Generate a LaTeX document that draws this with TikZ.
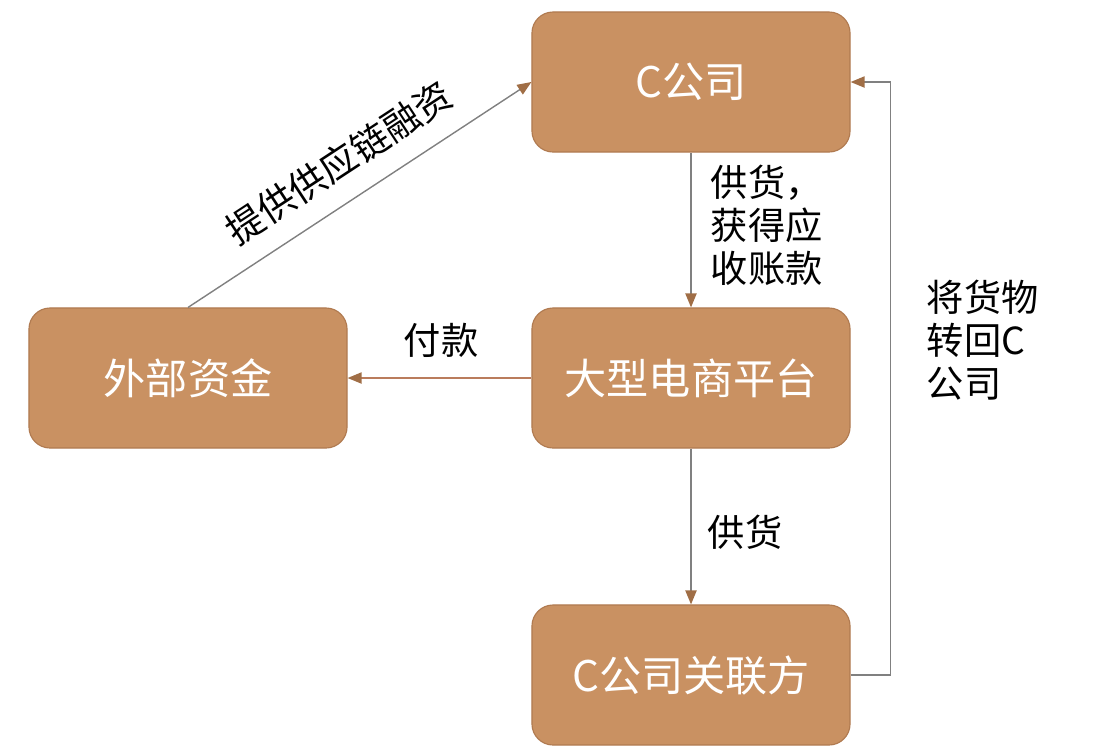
\documentclass[tikz,border=0pt]{standalone}
\usepackage{fontspec}
\setmainfont{Noto Sans CJK SC}
\usetikzlibrary{arrows.meta,positioning}
\definecolor{boxfill}{RGB}{201,145,98}
\definecolor{boxline}{RGB}{176,122,80}
\definecolor{tipbrown}{RGB}{160,110,70}
\definecolor{linegray}{RGB}{128,128,128}
\definecolor{linebrown}{RGB}{186,124,92}

\begin{document}
\begin{tikzpicture}[x=0.025cm,y=-0.025cm,
		firmbox/.style={draw=boxline,fill=boxfill,rounded corners=15pt,line width=0.8pt,
			minimum width=7.95cm,minimum height=3.5cm,text=white,font=\fontsize{30}{36}\selectfont},
		flowlabel/.style={font=\fontsize{26.5}{30.6}\selectfont,align=left,text=black},
		flowarrow/.style={draw=linegray,line width=1pt,-{Triangle[length=10pt,width=8pt,fill=tipbrown,color=tipbrown]}}]
		\useasboundingbox (0,0) rectangle (1108,752);
		% firms
		\node[firmbox] (ccomp) at (691,82) {C公司};
		\node[firmbox] (shop) at (691,378) {大型电商平台};
		\node[firmbox] (funds) at (188,378) {外部资金};
		\node[firmbox] (related) at (691,675) {C公司关联方};
		% flows
		\draw[flowarrow] (ccomp) -- (shop);
		\draw[flowarrow,draw=linebrown] (shop) -- (funds);
		\draw[flowarrow] (funds.north) -- node[midway,above=11pt,sloped,flowlabel] {提供供应链融资} (ccomp.west);
		\draw[flowarrow] (shop) -- (related);
		\draw[flowarrow] (related.east) -- ++(40,0) |- (ccomp.east);
		% labels
		\node[flowlabel,anchor=north west] (supply) at (706,160) {供货，\\获得应\\收账款};
		\node[flowlabel] (pay) at (441,340) {付款};
		\node[flowlabel] (supply2) at (745,532) {供货};
		\node[flowlabel,anchor=north west] (back) at (922,275) {将货物\\转回C\\公司};
\end{tikzpicture}
\end{document}
